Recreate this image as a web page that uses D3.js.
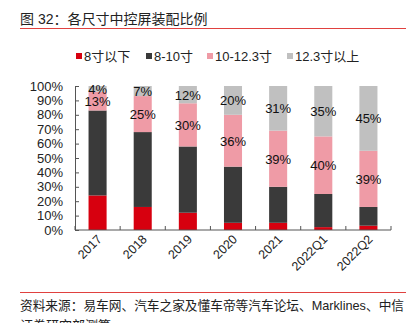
<!DOCTYPE html>
<html><head><meta charset="utf-8">
<script src="https://cdn.jsdelivr.net/npm/d3@7"></script>
<style>body{margin:0;background:#fff;}svg{display:block;font-family:"Liberation Sans",Arial,"Noto Sans CJK SC",sans-serif;}</style>
</head><body><svg id="c" width="406" height="323"></svg>
<script>
const categories = ["2017","2018","2019","2020","2021","2022Q1","2022Q2"];
const seriesNames = ["8寸以下","8-10寸","10-12.3寸","12.3寸以上"];
const under8 = [24,16,12,5,5,2,3];
const s8to10 = [59,52,46,39,25,23,13];
const s10to123 = [13,25,30,36,39,40,39];
const over123 = [4,7,12,20,31,35,45];
const yTicks = [0,10,20,30,40,50,60,70,80,90,100];
const colors = ["#d7000f","#3a3a3a","#ef9ba6","#c0c0c0"];
const labeled = [false,false,true,true];

const svg = d3.select("#c");
const cjk = '"Noto Sans CJK SC","Liberation Sans",sans-serif';
const latin = '"Liberation Sans",Arial,"Noto Sans CJK SC",sans-serif';

svg.append("text").attr("x",20).attr("y",24).attr("font-size",14).attr("fill","#222")
  .attr("font-family",latin).text("图 32：各尺寸中控屏装配比例");
svg.append("line").attr("x1",20).attr("x2",406).attr("y1",28.5).attr("y2",28.5).attr("stroke","#e0413f").attr("stroke-width",1);

// legend
const legX = [76,146,207,287];
seriesNames.forEach((n,i)=>{
  svg.append("rect").attr("x",legX[i]).attr("y",53).attr("width",6).attr("height",6).attr("fill",colors[i]);
  svg.append("text").attr("x",legX[i]+8).attr("y",61).attr("font-size",13).attr("fill","#222")
    .attr("font-family",latin).text(n);
});

const x = d3.scaleBand().domain(categories).range([75,391]).paddingInner(0.6).paddingOuter(0.3);
const y = d3.scaleLinear().domain([0,100]).range([230,86]);

const stackData = categories.map((c,i)=>{
  const v=[under8[i],s8to10[i],s10to123[i],over123[i]];
  const o={cat:c}; seriesNames.forEach((n,j)=>o[n]=v[j]); return o;});
const stack = d3.stack().keys(seriesNames)(stackData);

stack.forEach((layer,j)=>{
  svg.append("g").selectAll("rect").data(layer).join("rect")
    .attr("x",d=>x(d.data.cat)).attr("width",x.bandwidth())
    .attr("y",d=>y(d[1])).attr("height",d=>y(d[0])-y(d[1]))
    .attr("fill",colors[j]);
  if(labeled[j]){
    svg.append("g").selectAll("text").data(layer).join("text")
      .attr("x",d=>x(d.data.cat)+x.bandwidth()/2)
      .attr("y",d=>y((d[0]+d[1])/2)+5)
      .attr("text-anchor","middle").attr("font-size",13).attr("fill","#111")
      .text(d=>(d[1]-d[0])+"%");
  }
});

// y axis
const ya = svg.append("g").attr("transform","translate(75,0)")
  .call(d3.axisLeft(y).tickValues(yTicks).tickSize(-4).tickPadding(12).tickFormat(d=>d+"%"));
ya.selectAll("text").attr("font-size",13).attr("fill","#222").attr("font-family",latin);
ya.selectAll("line,path").attr("stroke","#555");

// x axis
const xa = svg.append("g").attr("transform","translate(0,230)");
xa.append("line").attr("x1",75).attr("x2",391).attr("stroke","#555");
const bounds = d3.range(categories.length+1).map(i=>75+i*(316/categories.length));
xa.selectAll("line.t").data(bounds).join("line").attr("class","t")
  .attr("x1",d=>d).attr("x2",d=>d).attr("y1",0).attr("y2",-4).attr("stroke","#555");
xa.selectAll("text").data(categories).join("text")
  .attr("transform",d=>`translate(${x(d)+x.bandwidth()/2+5},${10}) rotate(-45)`)
  .attr("text-anchor","end").attr("font-size",12.5).attr("fill","#222").text(d=>d);

// footer
svg.append("line").attr("x1",20).attr("x2",406).attr("y1",292.5).attr("y2",292.5).attr("stroke","#e0413f").attr("stroke-width",1);
svg.append("text").attr("x",20).attr("y",310).attr("font-size",13).attr("fill","#222").attr("font-family",latin)
  .attr("textLength",384).attr("lengthAdjust","spacingAndGlyphs")
  .text("资料来源：易车网、汽车之家及懂车帝等汽车论坛、Marklines、中信");
svg.append("text").attr("x",20).attr("y",330).attr("font-size",13).attr("fill","#222").attr("font-family",latin)
  .text("证券研究部测算");
</script></body></html>
